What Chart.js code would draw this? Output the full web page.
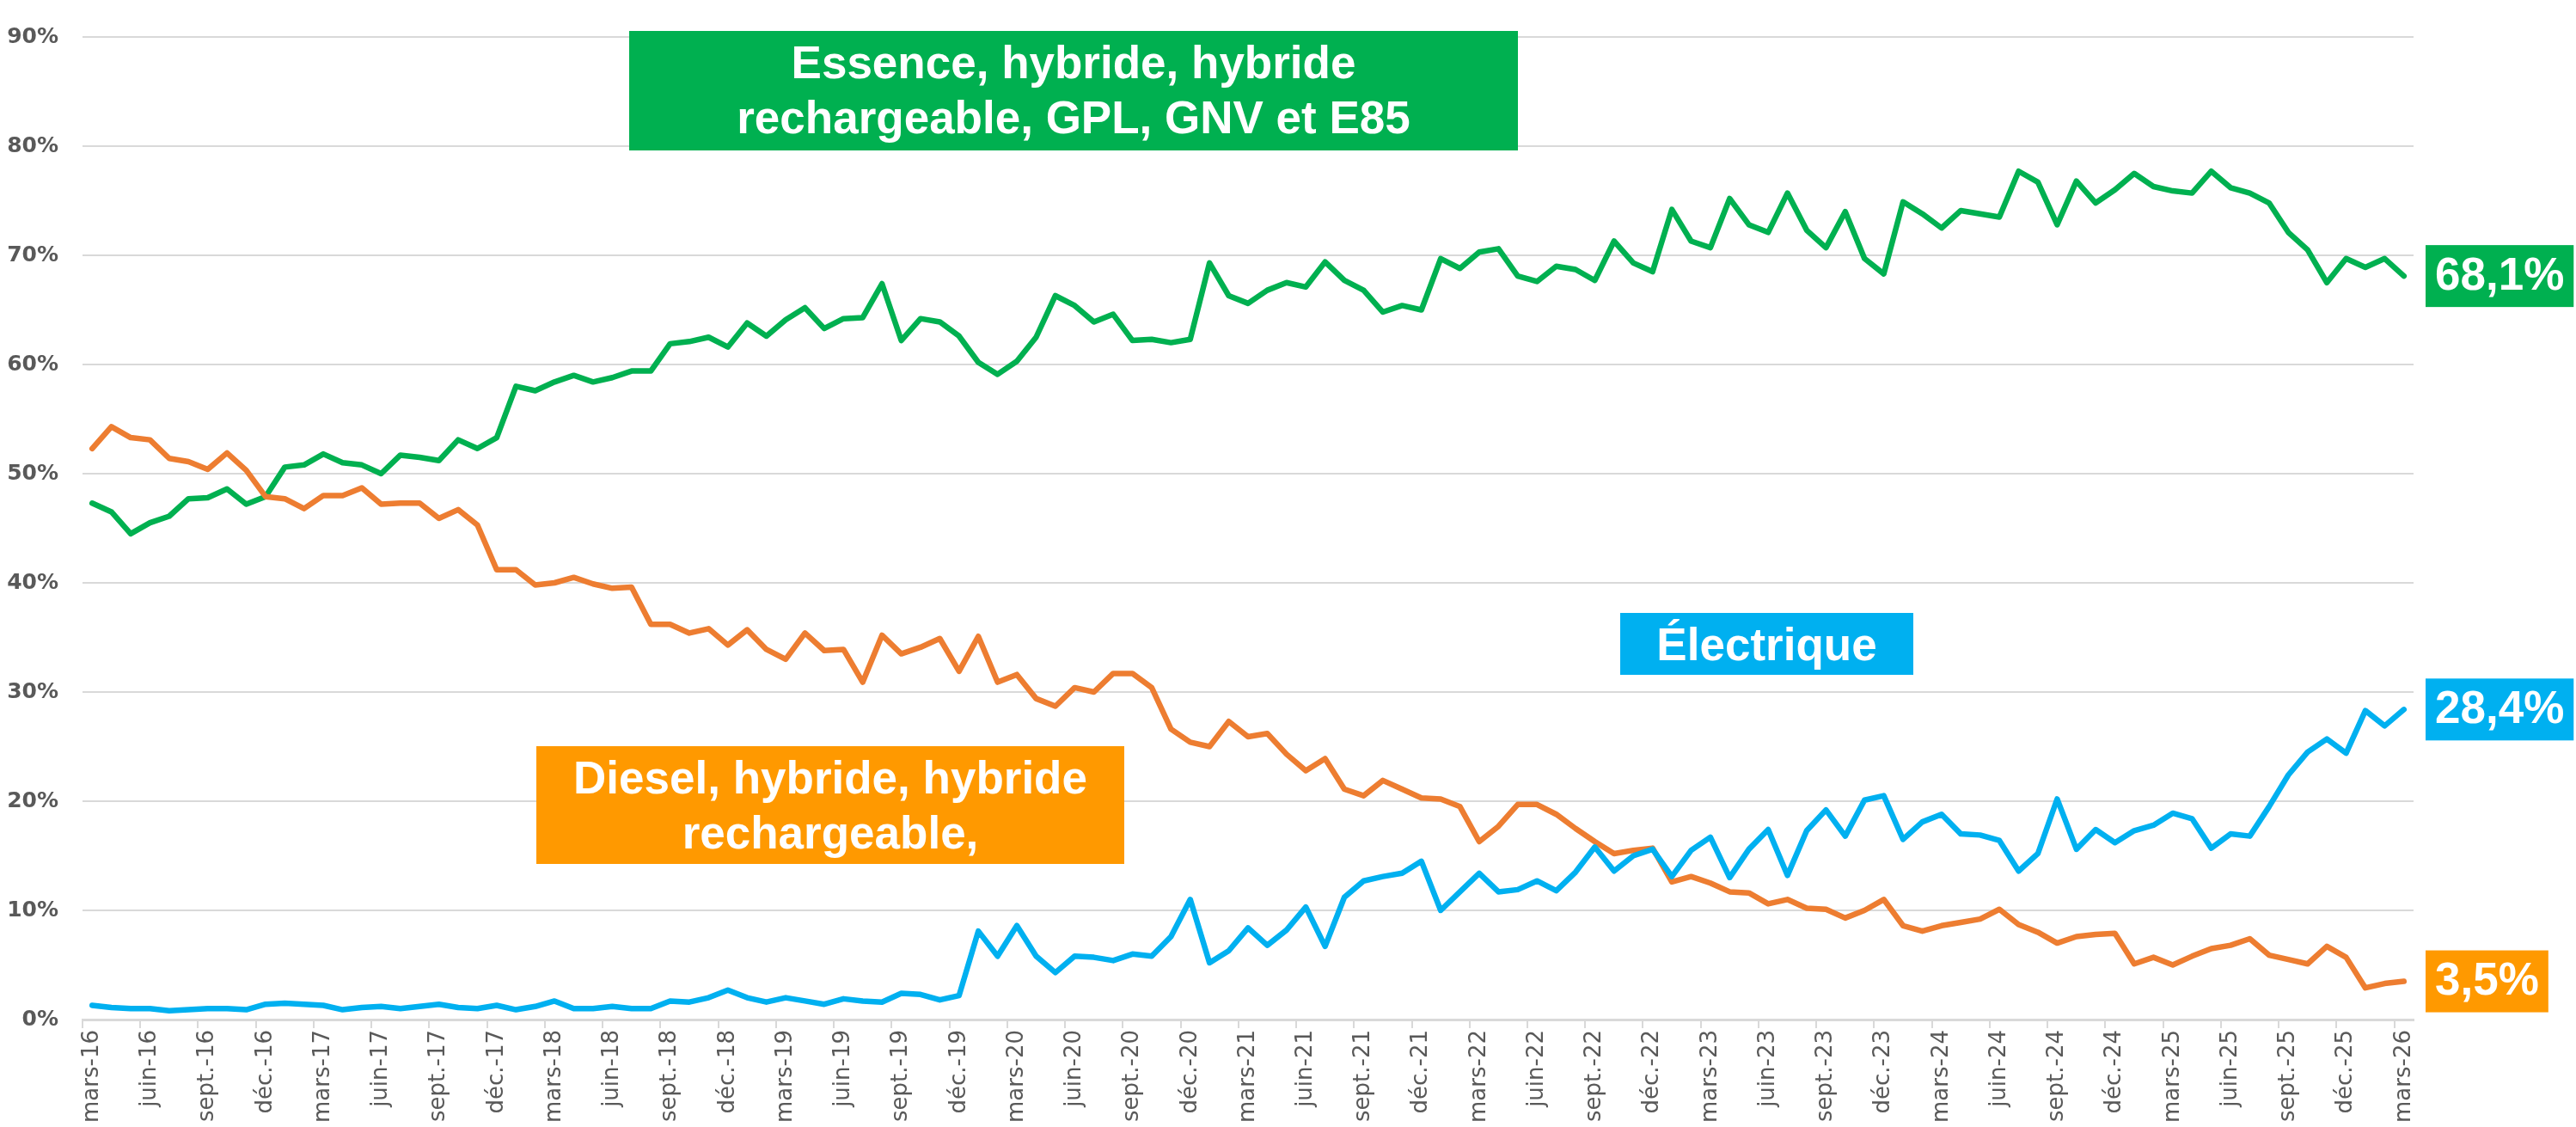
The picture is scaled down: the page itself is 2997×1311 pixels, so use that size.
<!DOCTYPE html>
<html>
<head>
<meta charset="utf-8">
<script src="https://cdn.jsdelivr.net/npm/chart.js@4.4.1/dist/chart.umd.min.js"></script>
<style>
  html, body { margin: 0; padding: 0; background: #fff; }
  #wrap { width: 2997px; height: 1311px; position: relative; }
</style>
</head>
<body>
<div id="wrap"><canvas id="myChart"></canvas></div>
<script>
// mois de mars 2016 à mars 2026
var monthNames = ['janv.', 'févr.', 'mars', 'avr.', 'mai', 'juin', 'juil.', 'août', 'sept.', 'oct.', 'nov.', 'déc.'];
var labels = [];
for (var m = 2; m <= 2 + 120; m++) {
    var yy = 16 + Math.floor(m / 12);
    labels.push(monthNames[m % 12] + '-' + yy);
}

var yTicks = [0, 10, 20, 30, 40, 50, 60, 70, 80, 90];

// Essence, hybride, hybride rechargeable, GPL, GNV et E85 (%)
var essence = [
    47.3, 46.5, 44.5, 45.5, 46.1, 47.7, 47.8, 48.6, 47.2, 47.9,
    50.6, 50.8, 51.8, 51.0, 50.8, 50.0, 51.7, 51.5, 51.2, 53.1,
    52.3, 53.3, 58.0, 57.6, 58.4, 59.0, 58.4, 58.8, 59.4, 59.4,
    61.9, 62.1, 62.5, 61.6, 63.8, 62.6, 64.1, 65.2, 63.3, 64.2,
    64.3, 67.4, 62.2, 64.2, 63.9, 62.6, 60.2, 59.1, 60.3, 62.5,
    66.3, 65.4, 63.9, 64.6, 62.2, 62.3, 62.0, 62.3, 69.3, 66.3,
    65.6, 66.8, 67.5, 67.1, 69.4, 67.7, 66.8, 64.8, 65.4, 65.0,
    69.7, 68.8, 70.3, 70.6, 68.1, 67.6, 69.0, 68.7, 67.7, 71.3,
    69.3, 68.5, 74.2, 71.3, 70.7, 75.2, 72.8, 72.1, 75.7, 72.3,
    70.7, 74.0, 69.7, 68.3, 74.9, 73.8, 72.5, 74.1, 73.8, 73.5,
    77.7, 76.7, 72.8, 76.8, 74.8, 76.0, 77.5, 76.3, 75.9, 75.7,
    77.7, 76.2, 75.7, 74.8, 72.1, 70.5, 67.5, 69.7, 68.9, 69.7,
    68.1
];

// Diesel, hybride, hybride rechargeable (%)
var diesel = [
    52.3, 54.3, 53.3, 53.1, 51.4, 51.1, 50.4, 51.9, 50.3, 47.9,
    47.7, 46.8, 48.0, 48.0, 48.7, 47.2, 47.3, 47.3, 45.9, 46.7,
    45.3, 41.2, 41.2, 39.8, 40.0, 40.5, 39.9, 39.5, 39.6, 36.2,
    36.2, 35.4, 35.8, 34.3, 35.7, 33.9, 33.0, 35.4, 33.8, 33.9,
    30.9, 35.2, 33.5, 34.1, 34.9, 31.9, 35.1, 30.9, 31.6, 29.4,
    28.7, 30.4, 30.0, 31.7, 31.7, 30.4, 26.6, 25.4, 25.0, 27.3,
    25.9, 26.2, 24.3, 22.8, 23.9, 21.1, 20.5, 21.9, 21.1, 20.3,
    20.2, 19.5, 16.3, 17.7, 19.7, 19.7, 18.8, 17.5, 16.3, 15.2,
    15.5, 15.7, 12.6, 13.1, 12.5, 11.7, 11.6, 10.6, 11.0, 10.2,
    10.1, 9.3, 10.0, 11.0, 8.6, 8.1, 8.6, 8.9, 9.2, 10.1,
    8.7, 8.0, 7.0, 7.6, 7.8, 7.9, 5.1, 5.7, 5.0, 5.8,
    6.5, 6.8, 7.4, 5.9, 5.5, 5.1, 6.7, 5.7, 2.9, 3.3,
    3.5
];

// Électrique (%)
var electrique = [
    1.3, 1.1, 1.0, 1.0, 0.8, 0.9, 1.0, 1.0, 0.9, 1.4,
    1.5, 1.4, 1.3, 0.9, 1.1, 1.2, 1.0, 1.2, 1.4, 1.1,
    1.0, 1.3, 0.9, 1.2, 1.7, 1.0, 1.0, 1.2, 1.0, 1.0,
    1.7, 1.6, 2.0, 2.7, 2.0, 1.6, 2.0, 1.7, 1.4, 1.9,
    1.7, 1.6, 2.4, 2.3, 1.8, 2.2, 8.1, 5.8, 8.6, 5.8,
    4.3, 5.8, 5.7, 5.4, 6.0, 5.8, 7.6, 11.0, 5.2, 6.3,
    8.4, 6.8, 8.2, 10.3, 6.7, 11.2, 12.7, 13.1, 13.4, 14.5,
    10.0, 11.7, 13.4, 11.7, 11.9, 12.7, 11.8, 13.5, 15.8, 13.6,
    15.0, 15.6, 13.1, 15.5, 16.7, 13.0, 15.6, 17.4, 13.2, 17.3,
    19.2, 16.8, 20.1, 20.5, 16.5, 18.1, 18.8, 17.0, 16.9, 16.4,
    13.6, 15.2, 20.2, 15.6, 17.4, 16.2, 17.3, 17.8, 18.9, 18.4,
    15.7, 17.0, 16.8, 19.5, 22.4, 24.5, 25.7, 24.4, 28.3, 26.9,
    28.4
];

var GREEN = '#00B050';
var ORANGE_LINE = '#ED7D31';
var ORANGE_BOX = '#FF9900';
var BLUE = '#00B0F0';
var GRID = '#D9D9D9';
var TEXT = '#595959';

var noteFont = 'bold 53px "Liberation Sans", Arial, sans-serif';

// encadrés de texte
var notes = [
    { lines: ['Essence, hybride, hybride', 'rechargeable, GPL, GNV et E85'], color: GREEN, x: 732, y: 36, w: 1034, h: 139 },
    { lines: ['Diesel, hybride, hybride', 'rechargeable,'], color: ORANGE_BOX, x: 624, y: 868, w: 684, h: 137 },
    { lines: ['Électrique'], color: BLUE, x: 1885, y: 713, w: 341, h: 72 }
];

var notesPlugin = {
    id: 'notes',
    afterDraw: function (chart) {
        var c = chart.ctx;
        c.save();
        c.font = noteFont;
        c.textAlign = 'center';
        c.textBaseline = 'alphabetic';
        notes.forEach(function (n) {
            c.fillStyle = n.color;
            c.fillRect(n.x, n.y, n.w, n.h);
            c.fillStyle = '#fff';
            n.lines.forEach(function (t, k) {
                c.fillText(t, n.x + n.w / 2, n.y + 55 + 64 * k);
            });
        });

        // valeurs finales à droite
        var yScale = chart.scales.y;
        var x0 = chart.chartArea.right + 14;
        var ends = [
            { data: essence, color: GREEN },
            { data: electrique, color: BLUE },
            { data: diesel, color: ORANGE_BOX }
        ];
        c.textAlign = 'left';
        c.textBaseline = 'middle';
        ends.forEach(function (e) {
            var v = e.data[e.data.length - 1];
            var txt = v.toFixed(1).replace('.', ',') + '%';
            var yc = yScale.getPixelForValue(v);
            var w = c.measureText(txt).width + 22;
            c.fillStyle = e.color;
            c.fillRect(x0, yc - 36, w, 72);
            c.fillStyle = '#fff';
            c.fillText(txt, x0 + 11, yc + 1);
        });
        c.restore();
    }
};

var ctx = document.getElementById('myChart').getContext('2d');
var myChart = new Chart(ctx, {
    type: 'line',
    data: {
        labels: labels,
        datasets: [
        {
            label: 'Électrique',
            data: electrique,
            borderColor: BLUE,
            borderWidth: 6.5,
            pointRadius: 0,
            tension: 0
        },
        {
            label: 'Diesel, hybride, hybride rechargeable',
            data: diesel,
            borderColor: ORANGE_LINE,
            borderWidth: 6.5,
            pointRadius: 0,
            tension: 0
        },
        {
            label: 'Essence, hybride, hybride rechargeable, GPL, GNV et E85',
            data: essence,
            borderColor: GREEN,
            borderWidth: 6.5,
            pointRadius: 0,
            tension: 0
        }]
    },
    options: {
        responsive: true,
        maintainAspectRatio: false,
        animation: false,
        layout: {
            padding: { left: 0, right: 189, top: 20, bottom: 0 }
        },
        elements: {
            line: { borderJoinStyle: 'round', borderCapStyle: 'round' }
        },
        plugins: {
            legend: { display: false },
            tooltip: { enabled: false }
        },
        scales: {
            x: {
                type: 'category',
                offset: true,
                afterFit: function (scale) { scale.height = 125; },
                grid: {
                    offset: true,
                    drawOnChartArea: false,
                    drawTicks: true,
                    tickLength: 10,
                    lineWidth: 2,
                    color: function (c) { return c.index % 3 === 0 ? GRID : 'rgba(0,0,0,0)'; }
                },
                border: { display: true, color: GRID, width: 3 },
                ticks: {
                    autoSkip: false,
                    minRotation: 90,
                    maxRotation: 90,
                    padding: 2,
                    color: TEXT,
                    font: { family: 'DejaVu Sans', size: 26 },
                    callback: function (value, index) {
                        return index % 3 === 0 ? this.getLabelForValue(value) : '';
                    }
                }
            },
            y: {
                min: yTicks[0],
                max: yTicks[yTicks.length - 1],
                afterFit: function (scale) { scale.width = 96; },
                afterBuildTicks: function (scale) {
                    scale.ticks = yTicks.map(function (v) { return { value: v }; });
                },
                grid: { color: GRID, lineWidth: 2, drawTicks: false },
                border: { display: false },
                ticks: {
                    padding: 28,
                    color: TEXT,
                    font: { family: 'DejaVu Sans', size: 25, weight: 'bold' },
                    callback: function (v) { return v + '%'; }
                }
            }
        }
    },
    plugins: [notesPlugin]
});
</script>
</body>
</html>
